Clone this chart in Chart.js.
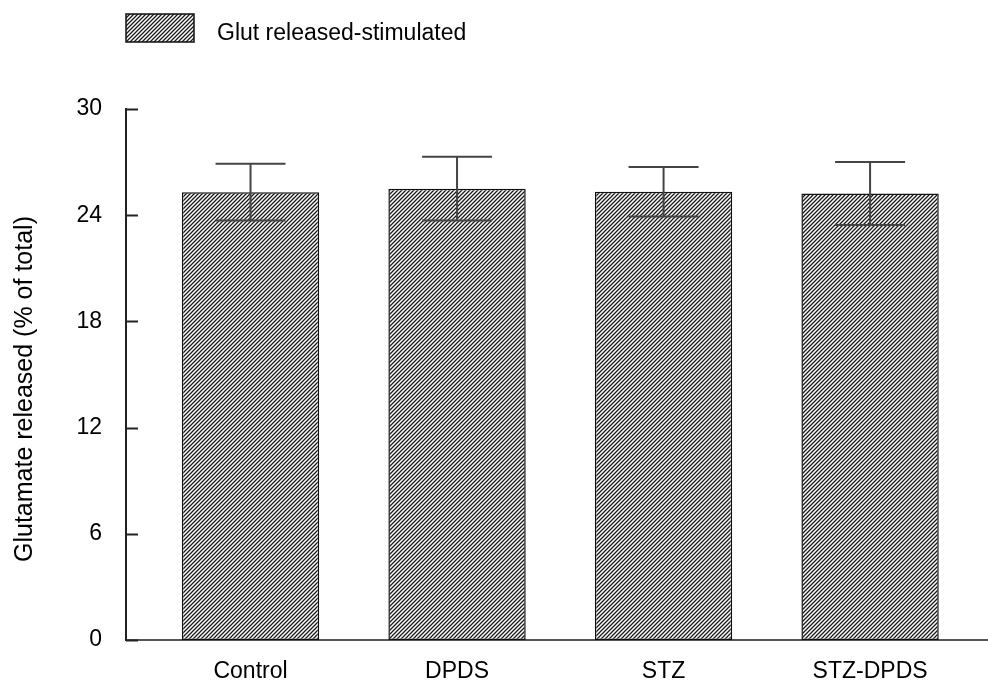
<!DOCTYPE html>
<html>
<head>
<meta charset="utf-8">
<script src="https://cdn.jsdelivr.net/npm/chart.js@4/dist/chart.umd.min.js"></script>
<style>
  html, body { margin: 0; padding: 0; background: #fff; }
  #wrap { width: 988px; height: 684px; }
</style>
</head>
<body>
<div id="wrap"><canvas id="glutChart" width="988" height="684"></canvas></div>
<script>
// Data
const groups = ['Control', 'DPDS', 'STZ', 'STZ-DPDS'];
const released = [25.3, 25.5, 25.33, 25.22];
const releasedErr = [1.6, 1.8, 1.4, 1.78];
const yTicks = [0, 6, 12, 18, 24, 30];
const seriesLabel = 'Glut released-stimulated';
const yTitle = 'Glutamate released (% of total)';

const FONT = '"Liberation Sans", Arial, sans-serif';

// Diagonal hatch used for the bars and the legend swatch
function makeHatch() {
    const s = 4;
    const c = document.createElement('canvas');
    c.width = s; c.height = s;
    const g = c.getContext('2d');
    g.fillStyle = '#fff';
    g.fillRect(0, 0, s, s);
    g.strokeStyle = '#1a1a1a';
    g.lineWidth = 1.3;
    g.beginPath();
    g.moveTo(-1, s + 1); g.lineTo(s + 1, -1);
    g.moveTo(-1, 1); g.lineTo(1, -1);
    g.moveTo(s - 1, s + 1); g.lineTo(s + 1, s - 1);
    g.stroke();
    return g.createPattern(c, 'repeat');
}
const hatch = makeHatch();

// Error bars with caps
const errorBars = {
    id: 'errorBars',
    afterDatasetsDraw(chart) {
        const { ctx, scales: { x, y } } = chart;
        ctx.save();
        ctx.strokeStyle = '#444';
        ctx.lineWidth = 2;
        released.forEach((v, i) => {
            const px = x.getPixelForValue(i + 1);
            const top = y.getPixelForValue(v + releasedErr[i]);
            const bot = y.getPixelForValue(v - releasedErr[i]);
            ctx.beginPath();
            ctx.moveTo(px, top); ctx.lineTo(px, bot);
            ctx.moveTo(px - 35, top); ctx.lineTo(px + 35, top);
            ctx.moveTo(px - 35, bot); ctx.lineTo(px + 35, bot);
            ctx.stroke();
        });
        ctx.restore();
    }
};

// Tick marks pointing into the plot, the y title and the legend row
const axisExtras = {
    id: 'axisExtras',
    afterDraw(chart) {
        const { ctx, chartArea, scales: { y } } = chart;
        ctx.save();
        ctx.strokeStyle = '#222';
        ctx.lineWidth = 2;
        yTicks.forEach(t => {
            const py = Math.round(y.getPixelForValue(t)) + 0.5;
            ctx.beginPath();
            ctx.moveTo(chartArea.left, py);
            ctx.lineTo(chartArea.left + 12, py);
            ctx.stroke();
        });

        // y axis title
        ctx.fillStyle = '#000';
        ctx.font = '25px ' + FONT;
        ctx.textAlign = 'center';
        ctx.textBaseline = 'middle';
        ctx.translate(25, 389);
        ctx.rotate(-Math.PI / 2);
        ctx.fillText(yTitle, 0, 0);
        ctx.setTransform(1, 0, 0, 1, 0, 0);

        // legend
        const bx = 126, by = 14, bw = 68, bh = 28;
        ctx.fillStyle = hatch;
        ctx.fillRect(bx, by, bw, bh);
        ctx.strokeStyle = '#111';
        ctx.lineWidth = 1.5;
        ctx.strokeRect(bx, by, bw, bh);
        ctx.fillStyle = '#000';
        ctx.font = '23px ' + FONT;
        ctx.textAlign = 'left';
        ctx.fillText(chart.data.datasets[0].label, 217, 34);
        ctx.restore();
    }
};

const ctx = document.getElementById('glutChart').getContext('2d');
new Chart(ctx, {
    type: 'bar',
    data: {
        datasets: [{
            label: seriesLabel,
            data: released.map((v, i) => ({ x: i + 1, y: v })),
            backgroundColor: hatch,
            borderColor: '#111',
            borderWidth: 1.5,
            borderSkipped: false,
            categoryPercentage: 1,
            barPercentage: 0.665
        }]
    },
    options: {
        responsive: false,
        animation: false,
        layout: { padding: { top: 109, left: 0, right: 0, bottom: 0 } },
        plugins: {
            legend: { display: false },
            tooltip: { enabled: false }
        },
        scales: {
            x: {
                type: 'linear',
                offset: false,
                min: 0.397,
                max: 4.571,
                afterBuildTicks: s => { s.ticks = groups.map((g, i) => ({ value: i + 1 })); },
                afterFit: s => { s.height = 44; },
                grid: { display: false, drawTicks: false },
                border: { display: true, color: '#555', width: 2 },
                ticks: {
                    padding: 18,
                    color: '#000',
                    font: { family: FONT, size: 23 },
                    callback: v => groups[v - 1]
                }
            },
            y: {
                min: 0,
                max: 30,
                afterBuildTicks: s => { s.ticks = yTicks.map(v => ({ value: v })); },
                afterFit: s => { s.width = 126; },
                grid: { display: false, drawTicks: false },
                border: { display: true, color: '#222', width: 2 },
                ticks: {
                    padding: 24,
                    color: '#000',
                    font: { family: FONT, size: 23 }
                }
            }
        }
    },
    plugins: [errorBars, axisExtras]
});
</script>
</body>
</html>
